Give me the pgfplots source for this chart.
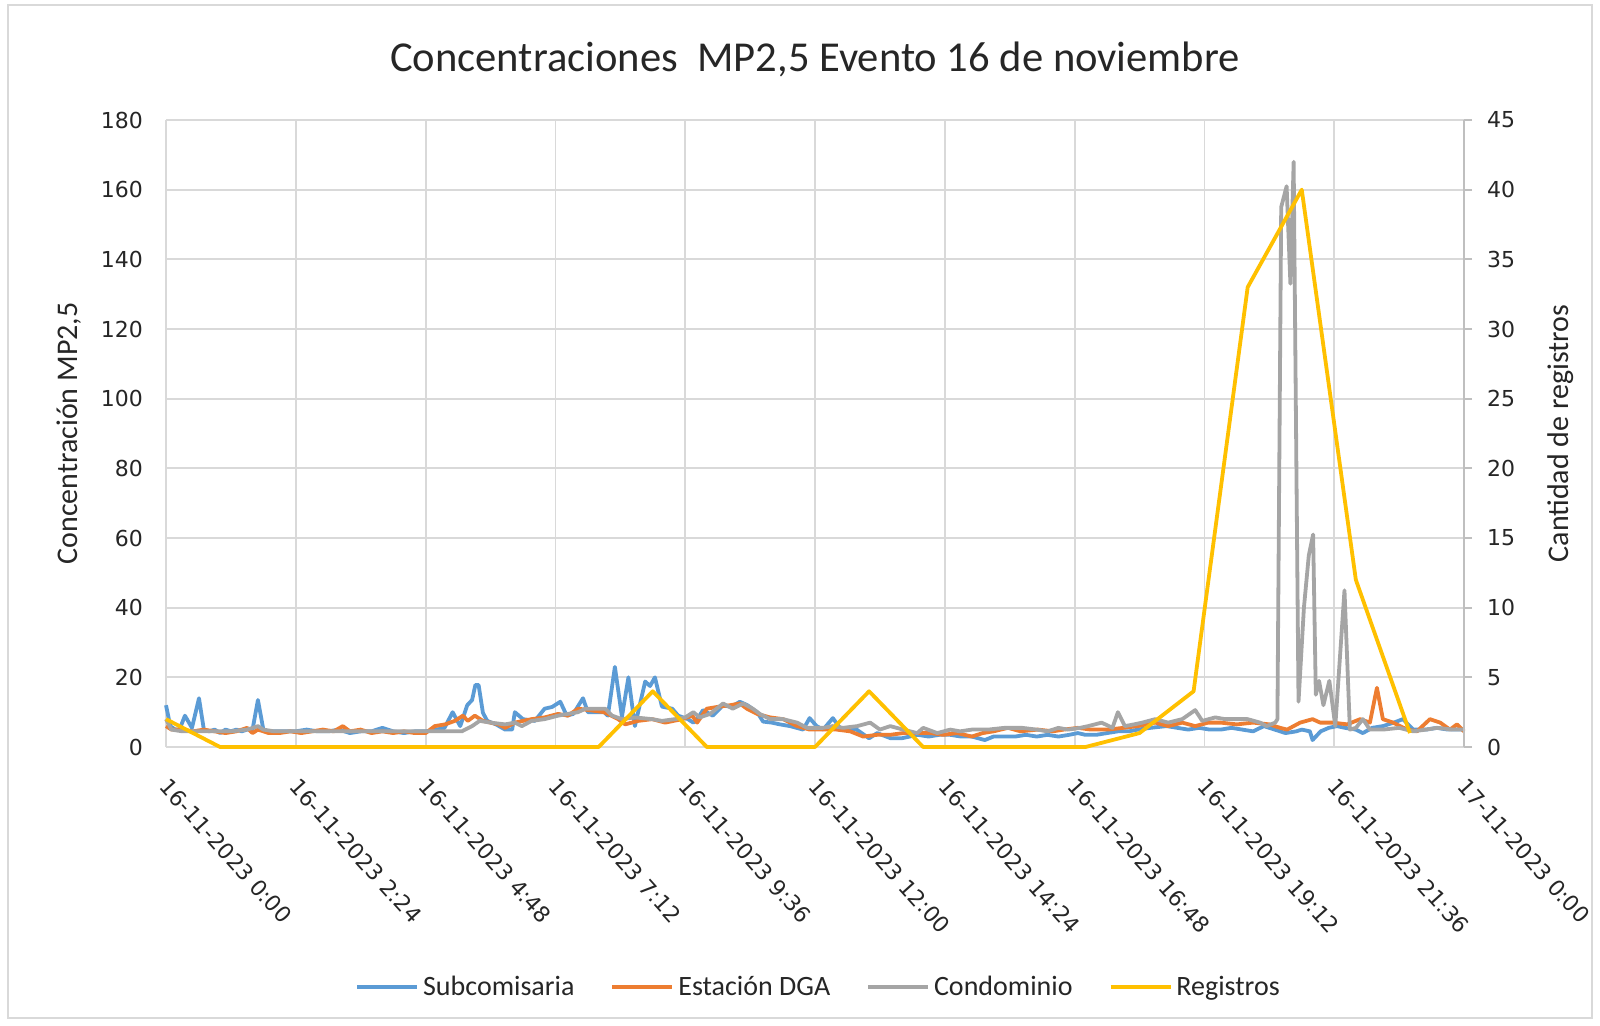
\documentclass[border=0pt]{standalone}
\usepackage{fontspec}
\setmainfont{Carlito}
\newfontfamily\tickfont{DejaVu Sans}
\usepackage{pgfplots}
\pgfplotsset{compat=1.18}
\definecolor{cBlue}{HTML}{5B9BD5}
\definecolor{cOrange}{HTML}{ED7D31}
\definecolor{cGray}{HTML}{A5A5A5}
\definecolor{cYellow}{HTML}{FFC000}
\definecolor{cGrid}{HTML}{D9D9D9}
\definecolor{cAxis}{HTML}{BFBFBF}
\begin{document}
\begin{tikzpicture}
\useasboundingbox (-83pt,-139pt) rectangle (717pt,373.5pt);
\draw[cGrid, line width=0.8pt] (-79pt,-135.5pt) rectangle (713pt,371pt);
\node[font=\fontsize{21.3}{25}\selectfont, text=black!85] at (324.5pt,344pt) {Concentraciones\ \ MP2,5 Evento 16 de noviembre};
\begin{axis}[
  at={(0,0)}, anchor=south west,
  scale only axis, width=649pt, height=313.5pt,
  xmin=0, xmax=24, ymin=0, ymax=180,
  xtick={0,2.4,4.8,7.2,9.6,12,14.4,16.8,19.2,21.6,24},
  xticklabels={16-11-2023 0:00,16-11-2023 2:24,16-11-2023 4:48,16-11-2023 7:12,16-11-2023 9:36,16-11-2023 12:00,16-11-2023 14:24,16-11-2023 16:48,16-11-2023 19:12,16-11-2023 21:36,17-11-2023 0:00},
  ytick={0,20,...,180},
  grid=major, grid style={cGrid, line width=0.9pt},
  axis line style={draw=none},
  major tick length=0pt,
  tick label style={font=\tickfont\fontsize{11}{13}\selectfont, text=black!85},
  /pgf/number format/assume math mode=true,
  xticklabel style={xshift=2.5pt, yshift=-10pt, rotate=-48, anchor=north west, font=\tickfont\fontsize{11}{13}\selectfont},
  yticklabel style={xshift=-8pt},
  ylabel={Concentración MP2,5},
  ylabel style={at={(axis description cs:-0.0747,0.5)}, anchor=center, font=\fontsize{15}{18}\selectfont, text=black!85},
  clip=false,
  line join=round,
]
\addplot[cBlue, line width=1.9pt] coordinates {
(0,12)(0.08,6)(0.17,5)(0.25,5)(0.35,9)(0.48,5.5)(0.61,14)(0.7,5)(0.8,4.5)(0.9,5)(1.0,4)(1.1,5)(1.2,4.5)(1.3,5)(1.4,4.5)(1.5,5)(1.6,5)(1.7,13.5)(1.8,5)(1.9,4.5)(2.0,4.5)(2.2,4.5)(2.4,4.5)(2.6,5)(2.8,4.5)(3.0,4.5)(3.2,5)(3.4,4)(3.6,4.5)(3.8,4.5)(4.0,5.5)(4.2,4.5)(4.4,4)(4.6,4.5)(4.8,4.5)(5.0,5)(5.15,5.5)(5.3,10)(5.44,6)(5.57,12)(5.66,13.5)(5.72,17.8)(5.78,17.8)(5.86,9.8)(5.94,7.5)(6.1,6.5)(6.27,5)(6.4,5)(6.45,10)(6.6,8)(6.82,7.5)(7.0,11)(7.14,11.5)(7.29,13)(7.41,9)(7.53,9.5)(7.71,14)(7.8,10)(8.0,10)(8.1,10)(8.17,9)(8.3,23)(8.43,8.7)(8.55,20)(8.67,6)(8.86,18.8)(8.95,17.5)(9.04,20)(9.17,11.6)(9.36,11)(9.47,9)(9.65,8)(9.75,7)(9.81,7.7)(9.93,10.6)(10.11,9)(10.3,12)(10.45,11.5)(10.61,13)(10.75,12)(10.93,10)(11.04,7.3)(11.2,7)(11.35,6.5)(11.54,6)(11.78,5)(11.9,8.3)(12.03,6)(12.15,5)(12.33,8.3)(12.46,5.5)(12.6,5)(12.77,5)(13.0,2.5)(13.15,4)(13.4,2.5)(13.6,2.5)(13.9,3.5)(14.1,3)(14.3,3.5)(14.5,3.5)(14.7,3)(14.9,3)(15.14,2)(15.3,3)(15.5,3)(15.7,3)(15.9,3.5)(16.1,3)(16.3,3.5)(16.5,3)(16.7,3.5)(16.86,4)(17.0,3.5)(17.2,3.5)(17.4,4)(17.6,4.5)(17.8,4.5)(17.97,5)(18.2,5.5)(18.5,6)(18.7,5.5)(18.9,5)(19.1,5.5)(19.3,5)(19.5,5)(19.7,5.5)(19.9,5)(20.1,4.5)(20.3,6)(20.5,5)(20.7,4)(20.9,4.5)(21.0,5)(21.15,4.5)(21.2,2)(21.35,4.5)(21.5,5.5)(21.65,6)(21.8,5.5)(22.0,5)(22.13,4)(22.3,5.5)(22.5,6)(22.7,7)(22.87,8)(23.06,5)(23.3,5)(23.5,5.5)(23.7,5)(23.9,5)(24,5)
};
\addplot[cOrange, line width=1.9pt] coordinates {
(0,6)(0.1,5)(0.3,5)(0.5,4.5)(0.7,5)(0.9,4.5)(1.1,4)(1.3,4.5)(1.5,5.5)(1.6,4)(1.7,5)(1.9,4)(2.1,4)(2.3,4.5)(2.5,4)(2.7,4.5)(2.9,5)(3.1,4.5)(3.27,6)(3.4,4.5)(3.6,5)(3.8,4)(4.0,4.5)(4.2,4)(4.4,4.5)(4.6,4)(4.8,4)(4.97,6)(5.16,6.5)(5.34,7.5)(5.49,9)(5.58,7.5)(5.71,9)(5.86,7.5)(6.0,7)(6.15,6.5)(6.27,5.5)(6.45,7)(6.6,7.5)(6.76,8)(7.0,8.5)(7.25,9.5)(7.43,9)(7.62,11)(7.87,10.5)(8.1,10)(8.36,8)(8.49,6.5)(8.73,7.5)(8.99,8)(9.23,7)(9.54,8)(9.73,9)(9.82,7)(10.0,11)(10.19,11.5)(10.43,12)(10.61,12.5)(10.74,11)(10.93,9.5)(11.17,8.5)(11.41,8)(11.67,6)(11.9,5)(12.15,5)(12.4,5)(12.65,4.5)(12.89,3)(13.15,3.5)(13.39,3.5)(13.63,4)(13.89,4)(14.13,4)(14.37,3.5)(14.63,4)(14.9,3)(15.1,4)(15.3,4.5)(15.57,5.5)(15.8,4.5)(16.12,5)(16.4,4.5)(16.6,5)(16.86,5.5)(17.1,5)(17.42,5)(17.7,5.5)(17.97,6)(18.29,7)(18.53,6)(18.79,7)(19.03,6)(19.27,7)(19.5,7)(19.8,6.5)(20.1,7)(20.4,6.5)(20.6,5.5)(20.73,5)(20.97,7)(21.2,8)(21.34,7)(21.58,7)(21.84,6.5)(22.08,8)(22.26,7)(22.39,17)(22.5,8)(22.69,7)(22.95,5)(23.13,4.5)(23.37,8)(23.56,7)(23.74,5)(23.87,6.5)(24,4.5)
};
\addplot[cGray, line width=1.9pt] coordinates {
(0,8)(0.1,5)(0.3,4.5)(0.6,4.5)(0.9,4.5)(1.2,4.5)(1.5,5)(1.7,6)(1.8,5)(2.0,4.5)(2.3,4.5)(2.6,4.5)(2.9,4.5)(3.2,4.5)(3.5,4.5)(3.8,4.5)(4.1,4.5)(4.4,4.5)(4.7,4.5)(5.0,4.5)(5.3,4.5)(5.47,4.5)(5.66,6)(5.8,7.5)(6.0,7)(6.27,6.5)(6.45,7)(6.58,6)(6.76,7.5)(7.0,8)(7.25,9)(7.43,9.5)(7.62,10)(7.75,11)(8.12,11)(8.25,9)(8.43,8)(8.67,8.5)(8.99,8)(9.17,7.5)(9.41,8)(9.6,8.5)(9.75,10)(9.87,8.5)(10.06,9.5)(10.3,12.5)(10.48,11)(10.67,12.5)(10.85,11)(10.98,9.5)(11.17,8)(11.41,8)(11.67,7)(11.85,5.5)(12.15,5.5)(12.33,6)(12.52,5.5)(12.78,6)(13.02,7)(13.2,5)(13.39,6)(13.63,5)(13.89,4)(14.0,5.5)(14.26,4)(14.5,5)(14.68,4.5)(14.9,5)(15.2,5)(15.5,5.5)(15.83,5.5)(16.1,5)(16.3,4.5)(16.5,5.5)(16.68,5)(16.9,5.5)(17.05,6)(17.3,7)(17.5,5.5)(17.6,10)(17.73,6)(17.9,6.5)(18.05,7)(18.29,8)(18.53,7)(18.79,8)(19.03,10.6)(19.16,7.5)(19.4,8.5)(19.58,8)(19.8,8)(20.0,8)(20.23,7)(20.35,6)(20.51,7)(20.55,8)(20.62,155)(20.72,161)(20.79,133)(20.85,168)(20.94,13)(21.04,40)(21.13,55)(21.21,61)(21.26,15)(21.32,19)(21.4,12)(21.51,19)(21.62,6)(21.79,45)(21.89,5)(22.0,5.5)(22.13,8)(22.26,5)(22.5,5)(22.8,5.5)(23.06,4.5)(23.3,5)(23.5,5.5)(23.8,5)(24,5)
};
\end{axis}
\begin{axis}[
  at={(0,0)}, anchor=south west,
  scale only axis, width=649pt, height=313.5pt,
  xmin=0, xmax=24, ymin=0, ymax=45,
  axis x line=none,
  axis y line*=right,
  y axis line style={cAxis, line width=0.9pt},
  ytick={0,5,...,45},
  major tick length=4pt,
  tick align=outside,
  tick style={cAxis, line width=0.9pt},
  tick label style={font=\tickfont\fontsize{11}{13}\selectfont, text=black!85},
  /pgf/number format/assume math mode=true,
  yticklabel style={xshift=4pt},
  ylabel={Cantidad de registros},
  ylabel style={at={(axis description cs:1.0747,0.5)}, anchor=center, rotate=0, font=\fontsize{15}{18}\selectfont, text=black!85},
  clip=false,
  line join=round,
  legend columns=4,
  legend style={at={(0.5035,-0.383)}, anchor=center, draw=none, fill=none, font=\fontsize{14}{17}\selectfont, text=black!85, inner xsep=1pt, /tikz/every odd column/.append style={column sep=0pt}, /tikz/every even column/.append style={column sep=16pt}},
  legend image code/.code={\draw[#1] (0pt,0pt) -- (30pt,0pt);},
]
\addlegendimage{cBlue, line width=1.9pt}
\addlegendentry{Subcomisaria}
\addlegendimage{cOrange, line width=1.9pt}
\addlegendentry{Estación DGA}
\addlegendimage{cGray, line width=1.9pt}
\addlegendentry{Condominio}
\addplot[cYellow, line width=1.9pt] coordinates {
(0,2)(1,0)(2,0)(3,0)(4,0)(5,0)(6,0)(7,0)(8,0)(9,4)(10,0)(11,0)(12,0)(13,4)(14,0)(15,0)(16,0)(17,0)(18,1)(19,4)(20,33)(21,40)(22,12)(23,1)
};
\addlegendentry{Registros}
\end{axis}
\end{tikzpicture}
\end{document}
